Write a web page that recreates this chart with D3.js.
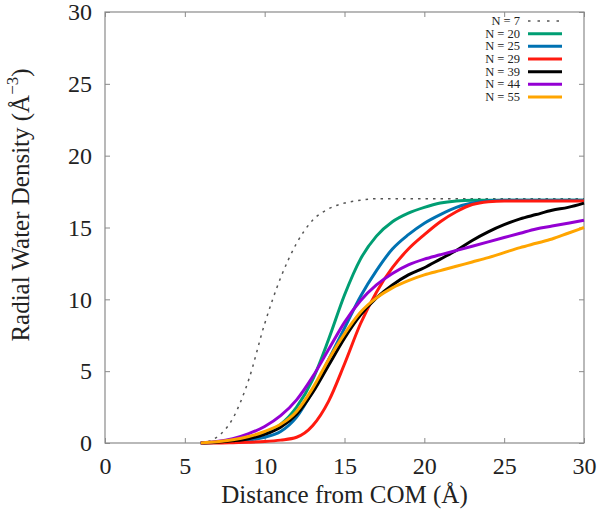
<!DOCTYPE html>
<html>
<head>
<meta charset="utf-8">
<script src="https://cdn.jsdelivr.net/npm/d3@7"></script>
<style>
  html, body { margin: 0; padding: 0; background: #fff; }
  svg { display: block; }
  text { font-family: "Liberation Serif", "Times New Roman", serif; fill: #222; }
</style>
</head>
<body>
<svg id="chart" width="600" height="520"></svg>
<script>
// ---- data ----
const distance = [6,7,8,9,10,11,12,13,14,15,16,17,18,19,20,21,22,23,24,25,26,27,28,29,30];
const seriesNames = ["N = 7","N = 20","N = 25","N = 29","N = 39","N = 44","N = 55"];
const n7  = [0,0.4,1.7,4.4,8.3,11.5,13.9,15.5,16.3,16.7,16.9,17.0,17.0,17.0,17.0,17.0,17.0,17.0,17.0,17.0,17.0,17.0,17.0,17.0,17.0];
const n20 = [0,0.05,0.15,0.35,0.7,1.3,2.5,4.4,7.2,10.3,12.8,14.4,15.4,16.0,16.4,16.7,16.85,16.9,16.9,16.9,16.9,16.9,16.9,16.9,16.9];
const n25 = [0,0.03,0.1,0.2,0.4,0.8,1.8,3.6,5.8,8.0,10.2,12.0,13.5,14.5,15.3,15.9,16.4,16.7,16.85,16.9,16.9,16.9,16.9,16.9,16.9];
const n29 = [0,0,0.02,0.05,0.1,0.2,0.4,1.2,2.9,5.5,8.3,10.5,12.2,13.5,14.5,15.4,16.1,16.6,16.8,16.85,16.85,16.85,16.85,16.85,16.85];
const n39 = [0,0.05,0.15,0.3,0.6,1.1,2.0,3.5,5.4,7.3,8.9,10.1,11.0,11.7,12.2,12.8,13.4,14.1,14.7,15.2,15.6,15.9,16.2,16.4,16.7];
const n44 = [0,0.1,0.3,0.65,1.15,1.9,3.0,4.6,6.5,8.4,9.9,11.0,11.8,12.4,12.8,13.1,13.4,13.7,14.0,14.3,14.6,14.9,15.1,15.3,15.5];
const n55 = [0,0.08,0.22,0.45,0.8,1.3,2.2,3.8,5.8,7.6,9.1,10.1,10.8,11.3,11.7,12.0,12.3,12.6,12.9,13.25,13.6,13.9,14.2,14.6,15.0];
const seriesValues = [n7, n20, n25, n29, n39, n44, n55];
const seriesColors = ["#555555","#009e73","#0072b2","#ff1a10","#000000","#9400d3","#ffa500"];
const xTicks = [0,5,10,15,20,25,30];
const yTicks = [0,5,10,15,20,25,30];

// ---- layout ----
const svg = d3.select("#chart");
const mLeft = 105, mRight = 584, mTop = 12, mBottom = 443;
const x = d3.scaleLinear().domain([0,30]).range([mLeft,mRight]);
const y = d3.scaleLinear().domain([0,30]).range([mBottom,mTop]);
const frameColor = "#8a8a8a";

// ticks (inward, mirrored)
const gx = svg.append("g").attr("transform", `translate(0,${mBottom})`)
  .call(d3.axisBottom(x).tickValues(xTicks).tickSizeInner(-5).tickSizeOuter(0).tickPadding(14));
const gxt = svg.append("g").attr("transform", `translate(0,${mTop})`)
  .call(d3.axisTop(x).tickValues(xTicks).tickSizeInner(-5).tickSizeOuter(0).tickFormat(""));
const gy = svg.append("g").attr("transform", `translate(${mLeft},0)`)
  .call(d3.axisLeft(y).tickValues(yTicks).tickSizeInner(-5).tickSizeOuter(0).tickPadding(13));
const gyr = svg.append("g").attr("transform", `translate(${mRight},0)`)
  .call(d3.axisRight(y).tickValues(yTicks).tickSizeInner(-5).tickSizeOuter(0).tickFormat(""));
[gx,gxt,gy,gyr].forEach(g => {
  g.select(".domain").remove();
  g.selectAll(".tick line").attr("stroke", frameColor).attr("stroke-width", 1);
  g.selectAll(".tick text").style("font-family", '"Liberation Serif", serif').style("font-size", "24px").attr("fill", "#222");
});

// frame
svg.append("rect").attr("x", mLeft).attr("y", mTop).attr("width", mRight-mLeft).attr("height", mBottom-mTop)
  .attr("fill", "none").attr("stroke", frameColor).attr("stroke-width", 1.2);

// curves
const line = d3.line().curve(d3.curveMonotoneX)
  .x((d,i) => x(distance[i])).y(d => y(d));
seriesValues.forEach((vals, k) => {
  const p = svg.append("path").datum(vals)
    .attr("d", line)
    .attr("fill", "none")
    .attr("stroke", seriesColors[k])
    .attr("stroke-linejoin", "round");
  if (k === 0) p.attr("stroke-width", 1.5).attr("stroke-dasharray", "2.5,5");
  else p.attr("stroke-width", 3);
});

// legend
const legY = d3.scalePoint().domain(seriesNames).range([21, 97]);
const leg = svg.append("g");
seriesNames.forEach((name, k) => {
  const yy = legY(name);
  leg.append("text").attr("x", 520).attr("y", yy + 4).attr("text-anchor", "end")
    .style("font-size", "12.5px").text(name);
  const l = leg.append("line").attr("x1", 528).attr("x2", 562).attr("y1", yy).attr("y2", yy)
    .attr("stroke", seriesColors[k]);
  if (k === 0) l.attr("stroke-width", 1.3).attr("stroke-dasharray", "2.5,7");
  else l.attr("stroke-width", 3);
});

// axis titles
svg.append("text").attr("x", (mLeft+mRight)/2).attr("y", 503).attr("text-anchor", "middle")
  .style("font-size", "25px").text("Distance from COM (Å)");
const yt = svg.append("text").attr("transform", "translate(29,205) rotate(-90)")
  .attr("text-anchor", "middle").style("font-size", "25px");
yt.append("tspan").text("Radial Water Density (Å");
yt.append("tspan").attr("dy", -11).style("font-size", "17px").text("−3");
yt.append("tspan").attr("dy", 11).text(")");
</script>
</body>
</html>
